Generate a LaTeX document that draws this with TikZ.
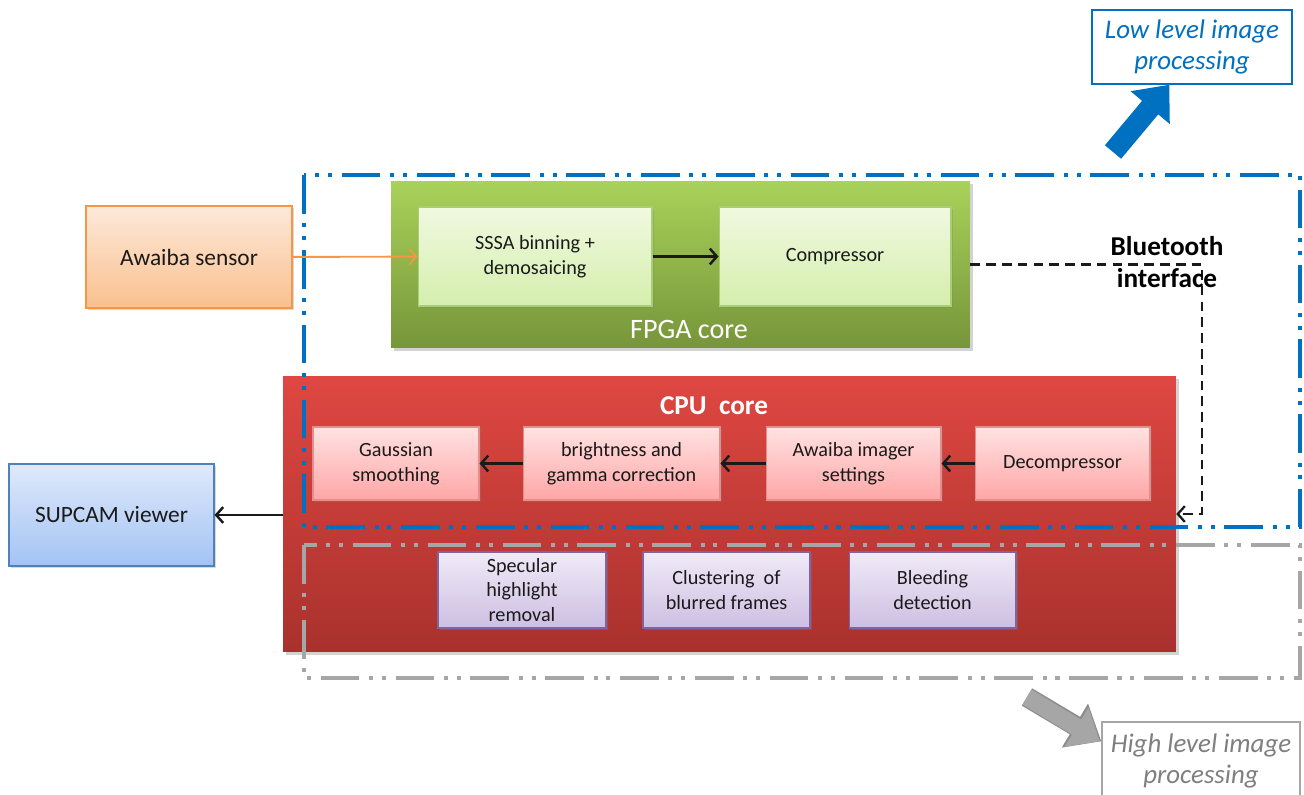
\documentclass[tikz,border=0pt]{standalone}
\usepackage{fontspec}
\setmainfont{Carlito}
\usepackage{tikz}
\usetikzlibrary{positioning,calc,arrows.meta,shadows}
\definecolor{cOrange}{HTML}{F79646}
\definecolor{cOrangeT}{HTML}{FDE9D9}
\definecolor{cOrangeB}{HTML}{FAC08F}
\definecolor{cGreenT}{HTML}{A9D25A}
\definecolor{cGreenB}{HTML}{77953A}
\definecolor{cLimeT}{HTML}{F0F9E0}
\definecolor{cLimeB}{HTML}{D5EEAD}
\definecolor{cLimeD}{HTML}{A8CF70}
\definecolor{cRedT}{HTML}{DF4742}
\definecolor{cRedB}{HTML}{A9312D}
\definecolor{cPinkT}{HTML}{FFE2E2}
\definecolor{cPinkB}{HTML}{FFA6A6}
\definecolor{cPinkD}{HTML}{E58C8C}
\definecolor{cSkyT}{HTML}{DFE9FB}
\definecolor{cSkyB}{HTML}{A3C3F4}
\definecolor{cSkyD}{HTML}{4F81BD}
\definecolor{cLilacT}{HTML}{F0EAF7}
\definecolor{cLilacB}{HTML}{CDBFE2}
\definecolor{cLilacD}{HTML}{8064A2}
\definecolor{cBlue}{HTML}{0070C0}
\definecolor{cGrey}{HTML}{A6A6A6}
\definecolor{cGreyD}{HTML}{8C8C8C}
\definecolor{cGreyT}{HTML}{7F7F7F}
\definecolor{cInk}{HTML}{1A1A1A}
\tikzset{
  box/.style={rectangle,inner sep=0pt,align=center,text=cInk,line width=0.6pt,
    font=\fontsize{11.5}{14}\selectfont,
    drop shadow={opacity=0.3,shadow xshift=1.2pt,shadow yshift=-1.2pt}},
  sensorbox/.style={box,draw=cOrange,top color=cOrangeT,bottom color=cOrangeB,font=\fontsize{13.3}{15}\selectfont},
  viewerbox/.style={box,draw=cSkyD,top color=cSkyT,bottom color=cSkyB,font=\fontsize{13.3}{15}\selectfont},
  limebox/.style={box,draw=cLimeD,top color=cLimeT,bottom color=cLimeB},
  pinkbox/.style={box,draw=cPinkD,top color=cPinkT,bottom color=cPinkB},
  lilacbox/.style={box,draw=cLilacD,top color=cLilacT,bottom color=cLilacB},
  corebox/.style={rectangle,inner sep=0pt,draw=none,
    drop shadow={opacity=0.35,shadow xshift=1.5pt,shadow yshift=-1.5pt}},
  frame/.style={line width=2.6pt,dash pattern=on 22pt off 5.5pt on 2.3pt off 5pt on 2.3pt off 5.5pt},
  pin/.style={-{Straight Barb[length=4pt,width=9pt]},line width=1.4pt,cInk},
  bigarrow/.style={line width=12pt},
}
\begin{document}
\begin{tikzpicture}[x=0.02cm,y=-0.02cm]
  \useasboundingbox (0,0) rectangle (1304,794);
  % cores
  \node[corebox,top color=cGreenT,bottom color=cGreenB,minimum width=11.58cm,minimum height=3.34cm] (fpga) at (680.5,264.5) {};
  \node[corebox,top color=cRedT,bottom color=cRedB,minimum width=17.86cm,minimum height=5.52cm] (cpu) at (729.5,514) {};
  \node[text=white,font=\fontsize{16}{18}\selectfont] (fpgalbl) at (689,329) {FPGA core};
  \node[text=white,font=\bfseries\fontsize{15.5}{18}\selectfont] (cpulbl) at (714,406) {CPU~~core};
  % frames
  \draw[frame,cBlue] (304,175) rectangle (1300,527);
  \draw[frame,cGrey] (304,545) rectangle (1300,678);
  % blocks
  \node[sensorbox,minimum width=4.12cm,minimum height=2.04cm] (sensor) at (189,257) {Awaiba sensor};
  \node[viewerbox,minimum width=4.1cm,minimum height=2.04cm] (viewer) at (111.5,515) {SUPCAM viewer};
  \node[limebox,minimum width=4.68cm,minimum height=1.98cm] (sssa) at (535,256.5) {SSSA binning +\\demosaicing};
  \node[limebox,minimum width=4.64cm,minimum height=1.98cm] (comp) at (835,256.5) {Compressor};
  \node[pinkbox,minimum width=3.32cm,minimum height=1.46cm] (gauss) at (396,463.5) {Gaussian\\smoothing};
  \node[pinkbox,minimum width=3.94cm,minimum height=1.46cm] (bright) at (621.5,463.5) {brightness and\\gamma correction};
  \node[pinkbox,minimum width=3.5cm,minimum height=1.46cm] (imager) at (853.5,463.5) {Awaiba imager\\settings};
  \node[pinkbox,minimum width=3.5cm,minimum height=1.46cm] (decomp) at (1062.5,463.5) {Decompressor};
  \node[lilacbox,minimum width=3.36cm,minimum height=1.52cm] (spec) at (522,590) {Specular\\highlight\\removal};
  \node[lilacbox,minimum width=3.34cm,minimum height=1.52cm] (clust) at (726.5,590) {Clustering~ of\\blurred frames};
  \node[lilacbox,minimum width=3.34cm,minimum height=1.52cm] (bleed) at (932.5,590) {Bleeding\\detection};
  % links
  \draw[pin,cOrange,line width=1.1pt] (sensor) -- (sssa);
  \draw[pin] (sssa) -- (comp);
  \foreach \a/\b in {decomp/imager,imager/bright,bright/gauss}
    \draw[pin] (\a) -- (\b);
  \draw[pin] (cpu.west |- viewer) -- (viewer);
  \coordinate (btcorner) at (1202,514);
  \draw[pin,dash pattern=on 5.5pt off 3.5pt,line width=1.3pt] (fpga.east) -| (btcorner) -- (cpu.east);
  \node[font=\bfseries\fontsize{15.5}{18}\selectfont,align=center,text=black] (bt) at (1167,262) {Bluetooth\\interface};
  % processing levels
  \node[draw=cBlue,line width=0.8pt,fill=white,text=cBlue,align=center,inner sep=0pt,
    font=\itshape\fontsize{15.3}{18}\selectfont,minimum width=4cm,minimum height=1.48cm] (lowbox) at (1192,47) {Low level image\\processing};
  \node[draw=cGrey,line width=0.8pt,fill=white,text=cGreyT,align=center,inner sep=0pt,
    font=\itshape\fontsize{15.3}{18}\selectfont,minimum width=3.96cm,minimum height=1.56cm] (highbox) at (1201,761) {High level image\\processing};
  \coordinate (lowtail) at (1113,152);
  \coordinate (hightail) at (1027,697);
  \draw[bigarrow,cBlue,-{Triangle[length=17pt,width=28pt]}] (lowtail) -- ($(lowbox.south west)+(78,0)$);
  \draw[bigarrow,cGreyD,line width=11.5pt,-{Triangle[length=17.5pt,width=28pt]}] (hightail) -- ($(highbox.north west)+(0,20)$);
  \draw[bigarrow,cGrey,line width=10pt,-{Triangle[length=15.5pt,width=25pt]}] (hightail) -- ($(highbox.north west)+(-1.5,20)$);
\end{tikzpicture}
\end{document}
